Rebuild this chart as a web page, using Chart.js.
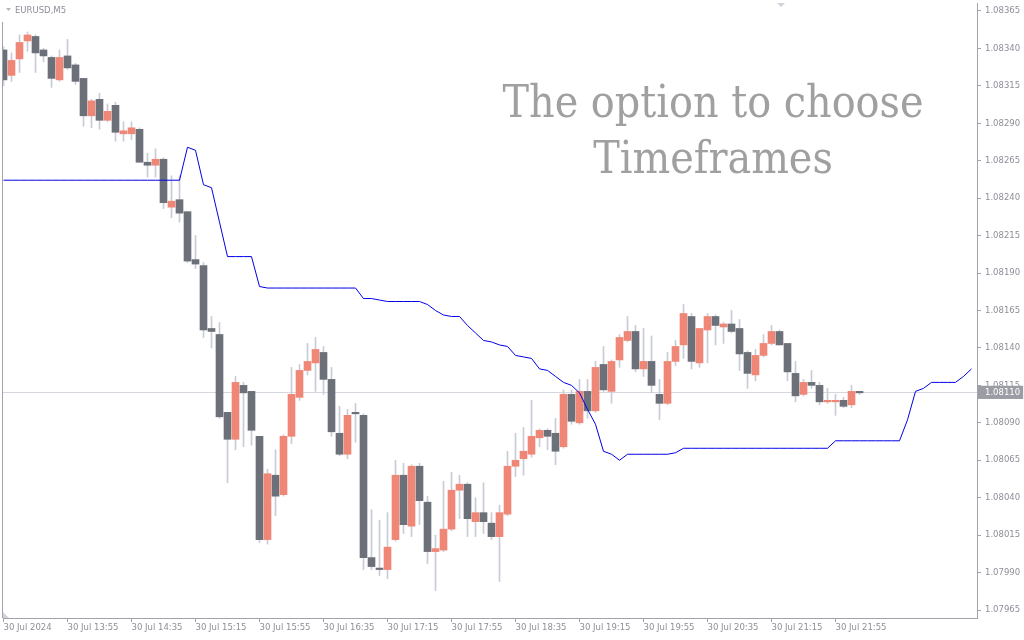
<!DOCTYPE html>
<html>
<head>
<meta charset="utf-8">
<script src="https://cdn.jsdelivr.net/npm/chart.js@4.4.1/dist/chart.umd.min.js"></script>
<style>
    body { margin: 0; background: #ffffff; }
    #wrap { width: 1024px; height: 640px; }
</style>
</head>
<body>
<div id="wrap"><canvas id="eurusd_chart"></canvas></div>
<script>
// candles, 5 minute bars from 30 Jul 13:15
const opens = [
    1.08339, 1.08322, 1.08333, 1.08345, 1.08348, 1.08339, 1.08334, 1.08319, 1.08335, 1.08329,
    1.08320, 1.08295, 1.08306, 1.08292, 1.08302, 1.08283, 1.08283, 1.08286, 1.08264, 1.08262,
    1.08266, 1.08234, 1.08239, 1.08231, 1.08199, 1.08195, 1.08153, 1.08149, 1.08097, 1.08079,
    1.08115, 1.08111, 1.08081, 1.08012, 1.08055, 1.08042, 1.08081, 1.08107, 1.08125, 1.08130,
    1.08137, 1.08119, 1.08083, 1.08069, 1.08097, 1.08095, 1.08000, 1.07993, 1.07992, 1.08012,
    1.08055, 1.08021, 1.08061, 1.08037, 1.08004, 1.08005, 1.08019, 1.08045, 1.08049, 1.08024,
    1.08030, 1.08023, 1.08014, 1.08029, 1.08061, 1.08066, 1.08069, 1.08080, 1.08085, 1.08083,
    1.08074, 1.08109, 1.08090, 1.08111, 1.08098, 1.08129, 1.08111, 1.08132, 1.08145, 1.08151,
    1.08126, 1.08131, 1.08109, 1.08103, 1.08131, 1.08142, 1.08161, 1.08130, 1.08152, 1.08161,
    1.08154, 1.08156, 1.08153, 1.08137, 1.08122, 1.08135, 1.08143, 1.08151, 1.08143, 1.08123,
    1.08109, 1.08117, 1.08115, 1.08104, 1.08104, 1.08105, 1.08102, 1.08111
];
const highs = [
    1.08341, 1.08337, 1.08349, 1.08351, 1.08349, 1.08340, 1.08335, 1.08339, 1.08346, 1.08330,
    1.08320, 1.08306, 1.08310, 1.08303, 1.08304, 1.08291, 1.08291, 1.08287, 1.08270, 1.08273,
    1.08267, 1.08255, 1.08255, 1.08231, 1.08215, 1.08197, 1.08161, 1.08157, 1.08097, 1.08121,
    1.08117, 1.08111, 1.08081, 1.08059, 1.08072, 1.08082, 1.08127, 1.08129, 1.08143, 1.08147,
    1.08141, 1.08127, 1.08101, 1.08099, 1.08103, 1.08096, 1.08032, 1.08025, 1.08030, 1.08065,
    1.08063, 1.08062, 1.08063, 1.08041, 1.08015, 1.08051, 1.08057, 1.08055, 1.08050, 1.08040,
    1.08050, 1.08030, 1.08035, 1.08071, 1.08083, 1.08087, 1.08105, 1.08086, 1.08086, 1.08093,
    1.08112, 1.08112, 1.08119, 1.08119, 1.08131, 1.08141, 1.08132, 1.08149, 1.08161, 1.08155,
    1.08153, 1.08148, 1.08119, 1.08137, 1.08145, 1.08169, 1.08163, 1.08153, 1.08163, 1.08162,
    1.08157, 1.08165, 1.08159, 1.08138, 1.08139, 1.08149, 1.08155, 1.08152, 1.08143, 1.08131,
    1.08119, 1.08125, 1.08117, 1.08113, 1.08109, 1.08107, 1.08115, 1.08111
];
const lows = [
    1.08315, 1.08318, 1.08324, 1.08338, 1.08324, 1.08331, 1.08314, 1.08318, 1.08326, 1.08316,
    1.08288, 1.08287, 1.08286, 1.08291, 1.08278, 1.08278, 1.08279, 1.08264, 1.08254, 1.08254,
    1.08233, 1.08227, 1.08224, 1.08197, 1.08193, 1.08147, 1.08140, 1.08093, 1.08050, 1.08072,
    1.08074, 1.08075, 1.08010, 1.08009, 1.08028, 1.08041, 1.08076, 1.08105, 1.08122, 1.08111,
    1.08109, 1.08081, 1.08068, 1.08066, 1.08077, 1.07992, 1.07992, 1.07988, 1.07986, 1.08011,
    1.08016, 1.08014, 1.08022, 1.07996, 1.07978, 1.08004, 1.08018, 1.08026, 1.08014, 1.08014,
    1.08016, 1.08012, 1.07984, 1.08028, 1.08054, 1.08055, 1.08067, 1.08074, 1.08072, 1.08062,
    1.08073, 1.08089, 1.08089, 1.08093, 1.08097, 1.08111, 1.08103, 1.08127, 1.08144, 1.08124,
    1.08121, 1.08110, 1.08092, 1.08102, 1.08128, 1.08133, 1.08126, 1.08127, 1.08130, 1.08142,
    1.08143, 1.08150, 1.08125, 1.08113, 1.08118, 1.08134, 1.08142, 1.08142, 1.08118, 1.08104,
    1.08108, 1.08113, 1.08102, 1.08103, 1.08095, 1.08100, 1.08100, 1.08109
];
const closes = [
    1.08319, 1.08332, 1.08344, 1.08349, 1.08337, 1.08335, 1.08320, 1.08334, 1.08327, 1.08318,
    1.08295, 1.08305, 1.08292, 1.08298, 1.08284, 1.08285, 1.08287, 1.08264, 1.08262, 1.08266,
    1.08237, 1.08238, 1.08230, 1.08198, 1.08196, 1.08152, 1.08151, 1.08094, 1.08079, 1.08117,
    1.08110, 1.08085, 1.08012, 1.08056, 1.08041, 1.08081, 1.08109, 1.08125, 1.08131, 1.08139,
    1.08119, 1.08084, 1.08069, 1.08095, 1.08096, 1.08000, 1.07994, 1.07992, 1.08007, 1.08055,
    1.08022, 1.08061, 1.08038, 1.08004, 1.08006, 1.08019, 1.08045, 1.08049, 1.08026, 1.08030,
    1.08024, 1.08014, 1.08030, 1.08061, 1.08065, 1.08071, 1.08081, 1.08085, 1.08081, 1.08071,
    1.08109, 1.08091, 1.08111, 1.08098, 1.08127, 1.08112, 1.08131, 1.08147, 1.08151, 1.08126,
    1.08131, 1.08115, 1.08103, 1.08131, 1.08141, 1.08163, 1.08131, 1.08153, 1.08161, 1.08155,
    1.08156, 1.08151, 1.08136, 1.08123, 1.08135, 1.08143, 1.08151, 1.08142, 1.08124, 1.08108,
    1.08117, 1.08115, 1.08104, 1.08105, 1.08105, 1.08101, 1.08111, 1.08110
];

// higher timeframe line (shifted, runs 14 bars past the last candle)
const htfLine = [
    1.08252, 1.08252, 1.08252, 1.08252, 1.08252, 1.08252, 1.08252, 1.08252, 1.08252, 1.08252,
    1.08252, 1.08252, 1.08252, 1.08252, 1.08252, 1.08252, 1.08252, 1.08252, 1.08252, 1.08252,
    1.08252, 1.08252, 1.08252, 1.08274, 1.08272, 1.08249, 1.08247, 1.08224, 1.08201, 1.08201,
    1.08201, 1.08201, 1.08181, 1.08180, 1.08180, 1.08180, 1.08180, 1.08180, 1.08180, 1.08180,
    1.08180, 1.08180, 1.08180, 1.08180, 1.08180, 1.08173, 1.08173, 1.08172, 1.08171, 1.08171,
    1.08171, 1.08171, 1.08171, 1.08169, 1.08165, 1.08162, 1.08161, 1.08161, 1.08155, 1.08150,
    1.08145, 1.08144, 1.08142, 1.08141, 1.08135, 1.08134, 1.08133, 1.08126, 1.08125, 1.08121,
    1.08117, 1.08115, 1.08110, 1.08099, 1.08089, 1.08071, 1.08069, 1.08065, 1.08069, 1.08069,
    1.08069, 1.08069, 1.08069, 1.08069, 1.08070, 1.08073, 1.08073, 1.08073, 1.08073, 1.08073,
    1.08073, 1.08073, 1.08073, 1.08073, 1.08073, 1.08073, 1.08073, 1.08073, 1.08073, 1.08073,
    1.08073, 1.08073, 1.08073, 1.08073, 1.08078, 1.08078, 1.08078, 1.08078, 1.08078, 1.08078,
    1.08078, 1.08078, 1.08078, 1.08092, 1.08111, 1.08113, 1.08117, 1.08117, 1.08117, 1.08117,
    1.08121, 1.08126
];

const priceTicks = [
    1.07965, 1.07990, 1.08015, 1.08040, 1.08065, 1.08090, 1.08115, 1.08140, 1.08165,
    1.08190, 1.08215, 1.08240, 1.08265, 1.08290, 1.08315, 1.08340, 1.08365
];
const currentPrice = 1.08110;

const timeTickBars = [0, 8, 16, 24, 32, 40, 48, 56, 64, 72, 80, 88, 96, 104];
const timeTickLabels = [
    "30 Jul 2024", "30 Jul 13:55", "30 Jul 14:35", "30 Jul 15:15", "30 Jul 15:55",
    "30 Jul 16:35", "30 Jul 17:15", "30 Jul 17:55", "30 Jul 18:35", "30 Jul 19:15",
    "30 Jul 19:55", "30 Jul 20:35", "30 Jul 21:15", "30 Jul 21:55"
];

const symbolText = "EURUSD,M5";
const noteLines = ["The option to choose", "Timeframes"];

const BULL = "#f08676";
const BEAR = "#6c7179";
const WICK = "#c9ccd4";
const AXIS = "#a2a2aa";
const LABEL = "#8e8e9a";

candleColor = (ctx) => closes[ctx.dataIndex] > opens[ctx.dataIndex] ? BULL : BEAR;
isCurrent = (ctx) => ctx.tick && ctx.tick.value === currentPrice;

// frame, symbol name and the big caption
const overlay = {
    id: "overlay",
    afterDraw: (chart) => {
        const ctx = chart.ctx;
        const area = chart.chartArea;
        ctx.save();
        ctx.strokeStyle = AXIS;
        ctx.lineWidth = 1;
        ctx.beginPath();
        ctx.moveTo(area.left - 0.5, 22);
        ctx.lineTo(area.left - 0.5, area.bottom);
        ctx.stroke();

        // little markers
        ctx.fillStyle = "#b4b4bc";
        ctx.beginPath();
        ctx.moveTo(6, 8); ctx.lineTo(11, 8); ctx.lineTo(8.5, 11);
        ctx.fill();
        ctx.fillStyle = "#d2d2da";
        ctx.beginPath();
        ctx.moveTo(777, 3); ctx.lineTo(785, 3); ctx.lineTo(781, 7);
        ctx.fill();
        ctx.beginPath();
        ctx.moveTo(area.left, area.bottom - 6); ctx.lineTo(area.left, area.bottom); ctx.lineTo(area.left + 6, area.bottom);
        ctx.fill();

        ctx.fillStyle = LABEL;
        ctx.font = "8.5px 'DejaVu Sans'";
        ctx.textBaseline = "alphabetic";
        ctx.textAlign = "left";
        ctx.fillText(symbolText, 15, 13);

        // fit caption to the width used in the picture
        ctx.font = "100px 'DejaVu Serif Condensed', 'DejaVu Serif'";
        const w = ctx.measureText(noteLines[0]).width;
        const size = Math.min(46, 100 * 421 / w);
        ctx.font = size + "px 'DejaVu Serif Condensed', 'DejaVu Serif'";
        ctx.fillStyle = "#a0a0a0";
        ctx.textAlign = "center";
        ctx.fillText(noteLines[0], 713, 117);
        ctx.fillText(noteLines[1], 713, 173);
        ctx.restore();
    }
};

new Chart("eurusd_chart", {
    type: "bar",
    data: {
        datasets: [
            {
                type: "line",
                data: htfLine.map((v, i) => ({ x: i, y: v })),
                borderColor: "#0000e6",
                borderWidth: 1,
                pointRadius: 0,
                tension: 0,
                order: 0
            },
            {
                data: opens.map((o, i) => ({ x: i, y: [o, closes[i]] })),
                backgroundColor: candleColor,
                barThickness: 7,
                minBarLength: 1,
                grouped: false,
                order: 1
            },
            {
                data: lows.map((l, i) => ({ x: i, y: [l, highs[i]] })),
                backgroundColor: WICK,
                barThickness: 1,
                grouped: false,
                order: 2
            }
        ]
    },
    plugins: [overlay],
    options: {
        responsive: true,
        maintainAspectRatio: false,
        animation: false,
        layout: { padding: { left: 3, top: 3, right: 0, bottom: 0 } },
        plugins: {
            legend: { display: false },
            tooltip: { enabled: false }
        },
        scales: {
            x: {
                type: "linear",
                offset: false,
                min: -0.0625,
                max: 121.6875,
                afterBuildTicks: (scale) => {
                    scale.ticks = timeTickBars.map(v => ({ value: v }));
                },
                afterFit: (scale) => {
                    scale.height = 22;
                    scale.paddingLeft = 0;
                    scale.paddingRight = 0;
                },
                border: { display: true, color: AXIS },
                grid: { offset: false, drawOnChartArea: false, drawTicks: true, tickLength: 4, tickColor: AXIS },
                ticks: {
                    autoSkip: false,
                    maxRotation: 0,
                    align: "start",
                    padding: 1,
                    color: LABEL,
                    font: { family: "DejaVu Sans", size: 8.5 },
                    callback: (value, index) => timeTickLabels[index]
                }
            },
            y: {
                position: "right",
                min: 1.0795966,
                max: 1.0837034,
                afterBuildTicks: (scale) => {
                    scale.ticks = priceTicks.concat([currentPrice]).map(v => ({ value: v }));
                },
                afterFit: (scale) => {
                    scale.width = 47;
                    scale.paddingTop = 0;
                    scale.paddingBottom = 0;
                },
                border: { display: true, color: AXIS },
                grid: {
                    drawTicks: true,
                    tickLength: 4,
                    color: (ctx) => isCurrent(ctx) ? "#d6d6de" : "rgba(0,0,0,0)",
                    tickColor: (ctx) => isCurrent(ctx) ? "rgba(0,0,0,0)" : AXIS
                },
                ticks: {
                    autoSkip: false,
                    padding: 4,
                    color: (ctx) => isCurrent(ctx) ? "#ffffff" : LABEL,
                    showLabelBackdrop: (ctx) => isCurrent(ctx),
                    backdropColor: "#9c9ca4",
                    backdropPadding: { left: 7, right: 3, top: 2, bottom: 1 },
                    font: { family: "DejaVu Sans", size: 8.5 },
                    callback: (value) => value.toFixed(5)
                }
            }
        }
    }
});
</script>
</body>
</html>
